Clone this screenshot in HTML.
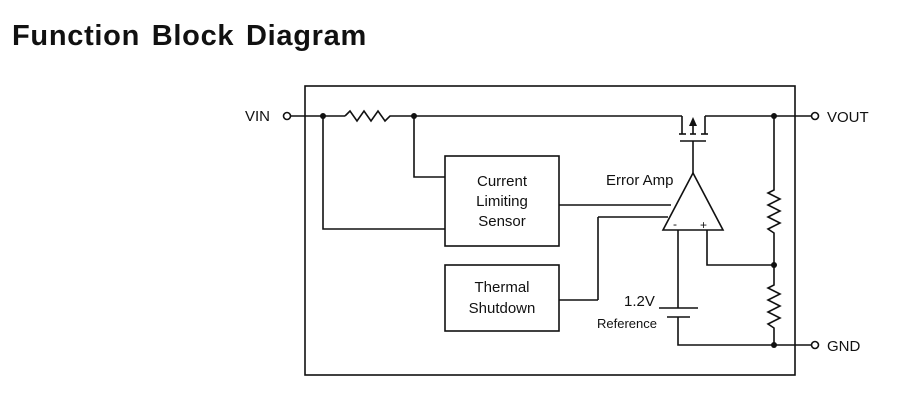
<!DOCTYPE html>
<html><head><style>
body{margin:0;background:#fff;width:918px;height:409px;overflow:hidden}
svg{display:block}
text{font-family:"Liberation Sans",Arial,sans-serif;fill:#111}
</style></head><body>
<svg width="918" height="409" viewBox="0 0 918 409">
<text x="12" y="45" font-size="29" font-weight="bold" word-spacing="3" letter-spacing="0.7">Function Block Diagram</text>
<g stroke="#111" stroke-width="1.6" fill="none">
<rect x="305" y="86" width="490" height="289"/>
<line x1="291" y1="116" x2="345" y2="116"/>
<polyline points="345,116 350,111 357,121 364,111 371,121 378,111 385,121 390,116 682,116"/>
<line x1="705" y1="116" x2="811" y2="116"/>
<line x1="682" y1="116" x2="682" y2="134"/>
<line x1="705" y1="116" x2="705" y2="134"/>
<line x1="679" y1="134" x2="686" y2="134"/>
<line x1="690" y1="134" x2="696" y2="134"/>
<line x1="701" y1="134" x2="708" y2="134"/>
<line x1="680" y1="141" x2="706" y2="141"/>
<line x1="693" y1="141" x2="693" y2="173"/>
<line x1="693" y1="134" x2="693" y2="124"/>
<polygon points="693,173 663,230 723,230"/>
<line x1="559" y1="205" x2="671" y2="205"/>
<line x1="598" y1="217" x2="668" y2="217"/>
<line x1="598" y1="217" x2="598" y2="300"/>
<line x1="559" y1="300" x2="598" y2="300"/>
<line x1="678" y1="230" x2="678" y2="308"/>
<polyline points="707,230 707,265 774,265"/>
<line x1="659" y1="308" x2="698" y2="308"/>
<line x1="667" y1="317" x2="690" y2="317"/>
<polyline points="678,317 678,345 811,345"/>
<polyline points="774,116 774,190 768,193 780,199 768,205 780,211 768,217 780,223 768,229 774,233 774,285 768,288 780,294 768,300 780,306 768,312 780,318 768,324 774,328 774,345"/>
<polyline points="323,116 323,229 445,229"/>
<polyline points="414,116 414,177 445,177"/>
<rect x="445" y="156" width="114" height="90"/>
<rect x="445" y="265" width="114" height="66"/>
<circle cx="287" cy="116" r="3.5" fill="#fff"/>
<circle cx="815" cy="116" r="3.5" fill="#fff"/>
<circle cx="815" cy="345" r="3.5" fill="#fff"/>
</g>
<polygon points="693,117 689,126 697,126" fill="#111"/>
<g fill="#111">
<circle cx="323" cy="116" r="3"/><circle cx="414" cy="116" r="3"/>
<circle cx="774" cy="116" r="3"/><circle cx="774" cy="265" r="3"/><circle cx="774" cy="345" r="3"/>
</g>
<g font-size="15">
<text x="245" y="121">VIN</text>
<text x="827" y="122">VOUT</text>
<text x="827" y="351">GND</text>
<text x="502" y="186" text-anchor="middle">Current</text>
<text x="502" y="206" text-anchor="middle">Limiting</text>
<text x="502" y="226" text-anchor="middle">Sensor</text>
<text x="502" y="292" text-anchor="middle">Thermal</text>
<text x="502" y="313" text-anchor="middle">Shutdown</text>
<text x="606" y="185">Error Amp</text>
<text x="624" y="306">1.2V</text>
</g>
<text x="597" y="328" font-size="13">Reference</text>
<text x="673" y="228" font-size="12">-</text>
<text x="700" y="229" font-size="12">+</text>
</svg>
</body></html>
